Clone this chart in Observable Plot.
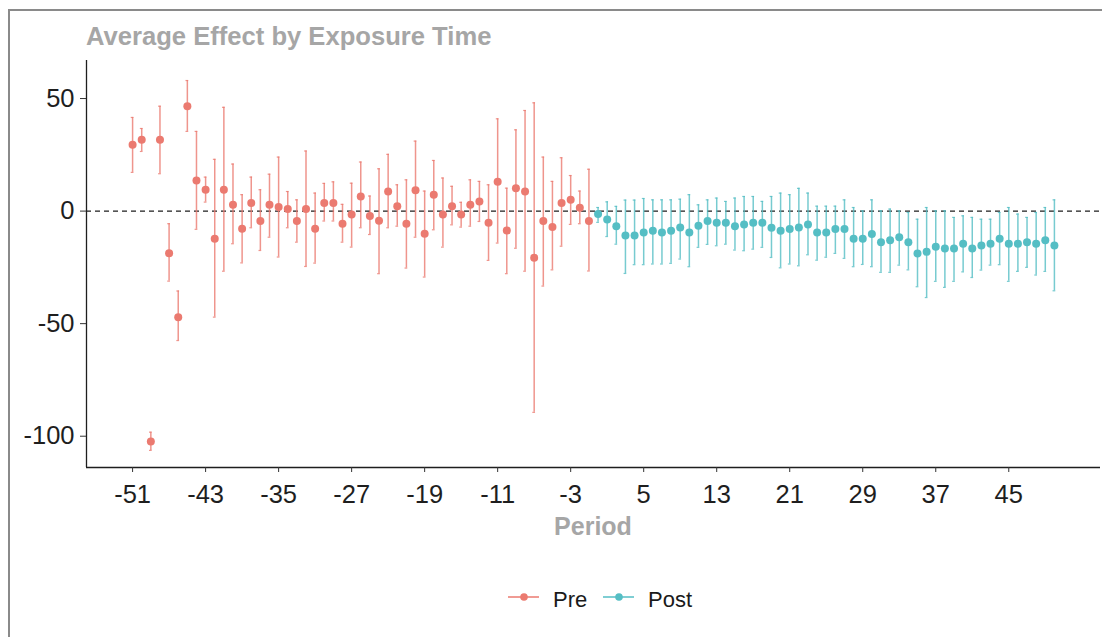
<!DOCTYPE html>
<html>
<head>
<meta charset="utf-8">
<script src="https://cdn.jsdelivr.net/npm/d3@7"></script>
<script src="https://cdn.jsdelivr.net/npm/@observablehq/plot@0.6"></script>
<style>
  body { margin: 0; background: #fff; }
  #wrap { position: relative; width: 1102px; height: 637px; overflow: hidden; font-family: "Liberation Sans", Arial, sans-serif; }
  #frame { position: absolute; left: 8px; top: 9px; width: 1200px; height: 700px; border-top: 2px solid #8a8a8a; border-left: 2px solid #8a8a8a; }
  #chart { position: absolute; left: 0; top: 0; }
  #title { position: absolute; left: 86px; top: 23px; font-size: 25.6px; line-height: 26px; font-weight: bold; color: #a6a6a6; white-space: nowrap; }
  #xlabel { position: absolute; left: 86px; width: 1014px; top: 514px; text-align: center; font-size: 25px; line-height: 25px; font-weight: bold; color: #a6a6a6; }
  #legend { position: absolute; left: 0; top: 580px; }
</style>
</head>
<body>
<div id="wrap">
  <div id="frame"></div>
  <div id="chart"></div>
  <div id="title">Average Effect by Exposure Time</div>
  <div id="xlabel">Period</div>
  <div id="legend"></div>
</div>
<script>
// ---- data ----
const prePeriods = [-51,-50,-49,-48,-47,-46,-45,-44,-43,-42,-41,-40,-39,-38,-37,-36,-35,-34,-33,-32,-31,-30,-29,-28,-27,-26,-25,-24,-23,-22,-21,-20,-19,-18,-17,-16,-15,-14,-13,-12,-11,-10,-9,-8,-7,-6,-5,-4,-3,-2,-1];
const preEstimate = [29.5,31.7,-102.3,31.7,-18.7,-47.2,46.6,13.6,9.5,-12.3,9.5,2.8,-7.8,3.6,-4.4,2.8,1.8,0.9,-4.4,0.9,-7.8,3.6,3.6,-5.6,-1.5,6.5,-2.2,-4.3,8.7,2.2,-5.6,9.3,-10.1,7.3,-1.5,2.2,-1.5,2.8,4.3,-5.2,13.0,-8.6,10.1,8.7,-20.7,-4.4,-7.1,3.6,5.0,1.5,-4.4];
const preLow = [17.2,26.5,-106.3,16.6,-31.1,-57.5,35.4,-8.1,4.0,-47.1,-26.7,-14.5,-23.0,-7.4,-17.5,-11.6,-20.4,-7.4,-13.8,-24.6,-23.1,-4.4,-4.4,-13.8,-16.0,-7.4,-10.4,-27.8,-7.4,-6.7,-25.3,-11.6,-29.3,-8.3,-16.0,-6.1,-7.1,-6.7,-4.6,-21.9,-14.2,-27.8,-16.5,-26.7,-89.4,-33.3,-26.1,-15.6,-5.9,-5.6,-26.6];
const preHigh = [41.6,36.7,-98.2,46.6,-5.6,-35.5,58.0,35.4,15.1,23.0,46.1,20.9,7.3,15.1,9.5,16.4,24.0,8.7,5.0,26.7,8.0,12.3,13.0,3.0,12.4,21.8,6.7,18.8,25.2,11.7,13.9,31.1,8.9,22.5,14.7,11.0,3.9,13.9,13.2,11.7,41.0,10.2,36.1,44.7,48.1,24.0,13.2,23.7,15.8,8.9,18.6];

const postPeriods = [0,1,2,3,4,5,6,7,8,9,10,11,12,13,14,15,16,17,18,19,20,21,22,23,24,25,26,27,28,29,30,31,32,33,34,35,36,37,38,39,40,41,42,43,44,45,46,47,48,49,50];
const postEstimate = [-1.3,-3.7,-6.7,-10.8,-10.8,-9.5,-8.7,-9.5,-8.7,-7.3,-9.5,-6.5,-4.4,-5.2,-5.2,-6.7,-5.9,-5.2,-5.2,-7.4,-8.7,-8.0,-7.3,-5.9,-9.5,-9.5,-8.0,-8.0,-12.3,-12.3,-10.2,-13.8,-13.0,-11.6,-13.8,-18.8,-18.1,-15.8,-16.6,-16.6,-14.5,-16.6,-15.3,-14.5,-12.3,-14.5,-14.5,-13.8,-14.5,-13.0,-15.3];
const postLow = [-5.0,-11.3,-14.7,-27.7,-23.8,-23.8,-23.5,-23.5,-23.2,-21.3,-24.7,-16.1,-14.8,-15.4,-14.7,-17.3,-17.6,-16.9,-16.1,-20.6,-25.2,-23.5,-24.3,-19.4,-21.8,-20.5,-18.8,-21.0,-24.7,-23.7,-24.7,-27.2,-27.2,-24.0,-26.1,-33.6,-38.4,-31.2,-33.9,-31.2,-27.0,-29.5,-26.2,-24.0,-23.8,-31.2,-26.8,-25.0,-28.4,-26.8,-35.4];
const postHigh = [1.6,4.1,2.1,4.9,4.9,5.6,5.0,5.0,5.0,5.3,7.3,2.8,5.0,5.8,4.3,5.8,6.5,6.5,4.3,6.5,8.0,7.3,10.1,8.0,2.2,2.2,2.2,5.0,1.6,0.1,5.0,0.1,0.9,0.1,-0.6,-3.6,1.6,0.1,0.1,-2.8,-2.1,-2.8,-3.6,-3.6,-0.6,1.6,-1.3,-2.8,-0.6,1.6,5.0];

const seriesNames = ["Pre", "Post"];
const seriesColors = ["#EB7A70", "#55BEC4"];
const xTicks = [-51,-43,-35,-27,-19,-11,-3,5,13,21,29,37,45];
const yTicks = [-100,-50,0,50];

// ---- build rows ----
const rows = [
  ...prePeriods.map((p, i) => ({period: p, est: preEstimate[i], lo: preLow[i], hi: preHigh[i], group: "Pre"})),
  ...postPeriods.map((p, i) => ({period: p, est: postEstimate[i], lo: postLow[i], hi: postHigh[i], group: "Post"}))
];

const xDomain = [-56.05, 55.05];
const yDomain = [-113.9, 66.9];
const hyphenFormat = d => String(d);

const chart = Plot.plot({
  width: 1102,
  height: 637,
  marginLeft: 86,
  marginRight: 2,
  marginTop: 60,
  marginBottom: 170,
  style: {fontFamily: "'Liberation Sans', Arial, sans-serif", fontSize: "25px", color: "#1e1e1e", background: "transparent", overflow: "visible"},
  x: {domain: xDomain, label: null},
  y: {domain: yDomain, label: null},
  color: {domain: seriesNames, range: seriesColors},
  marks: [
    Plot.ruleY([0], {stroke: "#1e1e1e", strokeWidth: 1.3, strokeDasharray: "5,4"}),
    Plot.ruleX(rows, {x: "period", y1: "lo", y2: "hi", stroke: "group", strokeWidth: 1.5, strokeOpacity: 0.8}),
    Plot.ruleY(rows, {y: "lo", x1: d => d.period - 0.15, x2: d => d.period + 0.15, stroke: "group", strokeWidth: 1.2, strokeOpacity: 0.8}),
    Plot.ruleY(rows, {y: "hi", x1: d => d.period - 0.15, x2: d => d.period + 0.15, stroke: "group", strokeWidth: 1.2, strokeOpacity: 0.8}),
    Plot.dot(rows, {x: "period", y: "est", fill: "group", r: 4}),
    Plot.ruleX([xDomain[0]], {stroke: "#1e1e1e", strokeWidth: 1.3}),
    Plot.ruleY([yDomain[0]], {stroke: "#1e1e1e", strokeWidth: 1.3}),
    Plot.axisX({ticks: xTicks, tickFormat: hyphenFormat, tickSize: 5, tickPadding: 12, fontSize: 25.5, label: null, stroke: "#333"}),
    Plot.axisY({ticks: yTicks, tickFormat: hyphenFormat, tickSize: 6, tickPadding: 6, fontSize: 25.5, label: null, stroke: "#333"})
  ]
});
document.getElementById("chart").appendChild(chart);

// ---- legend ----
const legendX = [508, 603];
const svgNS = "http://www.w3.org/2000/svg";
const leg = document.createElementNS(svgNS, "svg");
leg.setAttribute("width", 1102);
leg.setAttribute("height", 40);
seriesNames.forEach((name, i) => {
  const x0 = legendX[i];
  const line = document.createElementNS(svgNS, "line");
  line.setAttribute("x1", x0); line.setAttribute("x2", x0 + 31);
  line.setAttribute("y1", 17); line.setAttribute("y2", 17);
  line.setAttribute("stroke", seriesColors[i]); line.setAttribute("stroke-width", 1.5);
  leg.appendChild(line);
  const c = document.createElementNS(svgNS, "circle");
  c.setAttribute("cx", x0 + 16); c.setAttribute("cy", 17); c.setAttribute("r", 3.8);
  c.setAttribute("fill", seriesColors[i]);
  leg.appendChild(c);
  const t = document.createElementNS(svgNS, "text");
  t.setAttribute("x", x0 + 45); t.setAttribute("y", 27);
  t.setAttribute("font-size", 22);
  t.setAttribute("font-family", "'Liberation Sans', Arial, sans-serif");
  t.setAttribute("fill", "#1a1a1a");
  t.textContent = name;
  leg.appendChild(t);
});
document.getElementById("legend").appendChild(leg);
</script>
</body>
</html>
